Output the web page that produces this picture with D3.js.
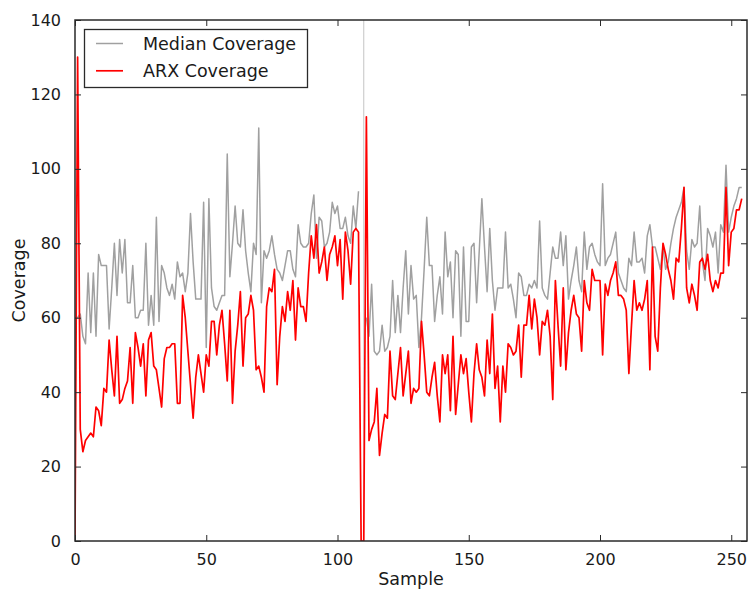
<!DOCTYPE html>
<html>
<head>
<meta charset="utf-8">
<script src="https://cdn.jsdelivr.net/npm/d3@7"></script>
<style>
  html, body { margin: 0; padding: 0; background: #fff; }
  svg { display: block; font-family: "DejaVu Sans", sans-serif; }
</style>
</head>
<body>
<svg id="chart" width="750" height="592"></svg>
<script>
// ---- data ----
const arxCoverage = [
  0,130,30,24,27,28,29,28,36,35,
  31,41,40,54,46,39,55,37,38,41,
  43,52,37,56,52,47,53,39,54,56,
  47,46,41,36,49,52,52,53,53,37,
  37,66,60,51,42,33,44,50,45,40,
  50,47,59,59,50,58,62,53,43,62,
  37,51,58,67,47,60,61,66,62,46,
  47,44,40,63,68,67,73,42,55,63,
  59,67,62,70,54,68,63,63,59,72,
  82,76,85,72,75,79,70,77,79,82,
  74,81,65,83,78,69,83,84,83,0,
  0,114,27,30,32,41,23,29,34,33,
  51,39,38,45,52,39,45,51,37,41,
  40,41,59,50,40,39,44,48,39,32,
  50,45,50,35,55,34,42,50,45,49,
  40,32,45,53,46,44,39,54,45,61,
  41,47,32,47,40,53,52,50,51,58,
  44,58,58,66,57,65,60,50,59,58,
  62,55,38,70,58,47,68,46,56,62,
  66,61,60,51,70,64,62,73,70,70,
  70,50,69,66,70,72,75,66,66,65,
  62,45,58,70,62,64,62,65,70,46,
  79,55,51,68,80,77,73,70,65,76,
  75,84,95,68,64,69,66,62,75,76,
  73,77,70,67,70,68,72,72,95,74,
  83,84,89,89,92
];
const medianCoverage = [
  60,60,61,55,53,72,56,72,55,77,
  74,74,74,57,68,80,66,81,72,81,
  64,64,74,60,60,62,62,80,58,66,
  58,87,59,74,72,68,66,69,65,75,
  71,72,67,72,88,75,65,65,65,91,
  52,92,68,63,62,64,66,66,104,71,
  80,90,80,79,89,78,72,67,80,77,
  111,64,78,76,78,82,77,73,72,70,
  74,78,78,73,71,85,80,79,79,80,
  88,93,76,87,86,79,80,83,91,88,
  90,84,84,87,82,80,90,84,94,null,
  null,60,55,69,51,50,51,58,51,52,
  55,70,56,66,56,68,78,61,74,65,
  66,52,60,73,87,74,74,59,66,71,
  61,83,71,75,60,78,77,55,79,59,
  59,79,80,64,78,92,79,67,84,70,
  62,68,68,68,83,68,69,65,60,72,
  71,66,66,69,68,70,68,86,68,66,
  65,72,79,76,76,83,74,82,65,70,
  74,79,70,67,83,73,79,80,77,75,
  74,96,74,76,77,80,83,72,70,68,
  67,76,74,83,75,75,76,72,82,85,
  79,79,76,73,79,73,75,80,84,87,
  89,91,95,78,73,81,79,80,90,75,
  70,84,82,79,83,72,85,83,101,83,
  87,90,92,95,95
];
const markerSample = 110;
const xDomain = [0, 256];
const yDomain = [0, 140];
const xTicks = [0, 50, 100, 150, 200, 250];
const yTicks = [0, 20, 40, 60, 80, 100, 120, 140];
const seriesNames = ["Median Coverage", "ARX Coverage"];
const seriesColors = ["#a0a0a0", "#ff0000"];
const xLabel = "Sample";
const yLabel = "Coverage";

// ---- layout ----
const margin = { left: 75, right: 3, top: 20, bottom: 51 };
const W = 750, H = 592;
const svg = d3.select("#chart");
const iw = W - margin.left - margin.right;
const ih = H - margin.top - margin.bottom;

const x = d3.scaleLinear().domain(xDomain).range([margin.left, margin.left + iw]);
const y = d3.scaleLinear().domain(yDomain).range([margin.top + ih, margin.top]);

svg.append("defs").append("clipPath").attr("id", "clip")
  .append("rect").attr("x", margin.left).attr("y", margin.top).attr("width", iw).attr("height", ih);

const plot = svg.append("g").attr("clip-path", "url(#clip)");

// vertical marker line
plot.append("line")
  .attr("x1", x(markerSample)).attr("x2", x(markerSample))
  .attr("y1", margin.top).attr("y2", margin.top + ih)
  .attr("stroke", "#c4c4c4").attr("stroke-width", 1);

const line = d3.line()
  .defined(d => d != null)
  .x((d, i) => x(i))
  .y(d => y(d));

plot.append("path").datum(medianCoverage)
  .attr("d", line).attr("fill", "none")
  .attr("stroke", seriesColors[0]).attr("stroke-width", 1.5).attr("stroke-linejoin", "round");

plot.append("path").datum(arxCoverage)
  .attr("d", line).attr("fill", "none")
  .attr("stroke", seriesColors[1]).attr("stroke-width", 1.7).attr("stroke-linejoin", "round");

// ---- axes (matplotlib classic: inward ticks on all sides) ----
const tickLen = 6;
const axisColor = "#2a2a2a";
const fontSize = 16;

const bottomAxis = d3.axisBottom(x).tickValues(xTicks).tickSize(-tickLen).tickPadding(tickLen + 7).tickFormat(d3.format("d"));
const topAxis = d3.axisTop(x).tickValues(xTicks).tickSize(-tickLen).tickFormat("");
const leftAxis = d3.axisLeft(y).tickValues(yTicks).tickSize(-tickLen).tickPadding(tickLen + 8).tickFormat(d3.format("d"));
const rightAxis = d3.axisRight(y).tickValues(yTicks).tickSize(-tickLen).tickFormat("");

function styleAxis(g) {
  g.select(".domain").remove();
  g.selectAll(".tick line").attr("stroke", axisColor).attr("stroke-width", 1);
  g.selectAll(".tick text").attr("fill", "#1a1a1a").style("font-size", fontSize + "px").style("font-family", "DejaVu Sans");
}
svg.append("g").attr("transform", `translate(0,${margin.top + ih})`).call(bottomAxis).call(styleAxis);
svg.append("g").attr("transform", `translate(0,${margin.top})`).call(topAxis).call(styleAxis);
svg.append("g").attr("transform", `translate(${margin.left},0)`).call(leftAxis).call(styleAxis);
svg.append("g").attr("transform", `translate(${margin.left + iw},0)`).call(rightAxis).call(styleAxis);

// frame
svg.append("rect")
  .attr("x", margin.left).attr("y", margin.top).attr("width", iw).attr("height", ih)
  .attr("fill", "none").attr("stroke", axisColor).attr("stroke-width", 1.5);

// axis labels
svg.append("text")
  .attr("x", margin.left + iw / 2).attr("y", 585)
  .attr("text-anchor", "middle").style("font-size", "17.5px").attr("fill", "#1a1a1a")
  .text(xLabel);
svg.append("text")
  .attr("transform", `translate(25,${margin.top + ih / 2}) rotate(-90)`)
  .attr("text-anchor", "middle").style("font-size", "17.5px").attr("fill", "#1a1a1a")
  .text(yLabel);

// legend
const lg = svg.append("g");
lg.append("rect").attr("x", 84.5).attr("y", 29.5).attr("width", 223).attr("height", 58)
  .attr("fill", "#fff").attr("stroke", axisColor).attr("stroke-width", 1.3);
seriesNames.forEach((name, i) => {
  const cy = 43.5 + i * 27.3;
  lg.append("line").attr("x1", 96).attr("x2", 123).attr("y1", cy).attr("y2", cy)
    .attr("stroke", seriesColors[i]).attr("stroke-width", i === 0 ? 1.5 : 1.7);
  lg.append("text").attr("x", 143).attr("y", cy).attr("dy", "0.35em")
    .style("font-size", "17.5px").attr("fill", "#1a1a1a").text(name);
});
</script>
</body>
</html>
